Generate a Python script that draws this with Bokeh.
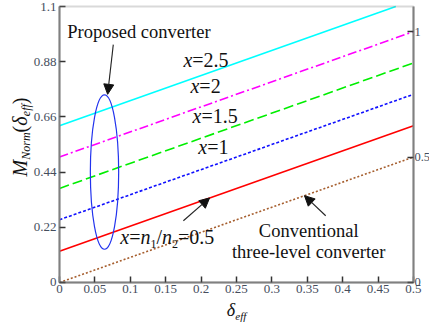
import math
from bokeh.plotting import figure
from bokeh.models import (Range1d, LinearAxis, FixedTicker, NumeralTickFormatter,
                          Label, Arrow, NormalHead, BoxAnnotation)
from bokeh.embed import file_html
from bokeh.resources import INLINE

# ---------------- data ----------------
delta = [0.0, 0.5]
delta_x25 = [0.0, 0.475]          # cyan line leaves the box at the top
m_conventional = [0.0, 0.5]
m_x05 = [0.125, 0.625]
m_x1 = [0.25, 0.75]
m_x15 = [0.375, 0.875]
m_x2 = [0.5, 1.0]
m_x25 = [0.625, 1.1]

x_ticks = [0, 0.05, 0.1, 0.15, 0.2, 0.25, 0.3, 0.35, 0.4, 0.45, 0.5]
y_ticks = [0, 0.22, 0.44, 0.66, 0.88, 1.1]
y2_ticks = [0, 0.5, 1]

FONT = "Times New Roman, Liberation Serif, serif"
TXT = "#111111"
AX = "#808080"
TICKLAB = "#454d5c"

W, H = 429, 324
# the frame covers the whole canvas; the axes sit at fixed data positions
X0, X1 = -0.0833, 0.5226
Y0, Y1 = -0.1674, 1.1239
PX_X = W / (X1 - X0)
PX_Y = H / (Y1 - Y0)

p = figure(width=W, height=H, x_range=Range1d(X0, X1), y_range=Range1d(Y0, Y1),
           output_backend="svg", toolbar_location=None, x_axis_type=None, y_axis_type=None,
           min_border_left=0, min_border_right=0, min_border_top=0, min_border_bottom=0)
p.xgrid.visible = False
p.ygrid.visible = False
p.outline_line_color = None
p.background_fill_color = "white"
p.border_fill_color = "white"

# box around the plotting area (gives the top edge)
p.add_layout(BoxAnnotation(left=x_ticks[0], right=x_ticks[-1], bottom=y_ticks[0], top=y_ticks[-1],
                           fill_color=None, fill_alpha=0, line_color=AX, line_width=2))

def make_axis(side, ticks, loc, bounds, size="13px", color=TICKLAB):
    ax = LinearAxis(fixed_location=loc, bounds=bounds)
    ax.ticker = FixedTicker(ticks=ticks)
    ax.formatter = NumeralTickFormatter(format="0.[00]")
    ax.axis_line_color = AX
    ax.axis_line_width = 2
    ax.major_tick_in = 6
    ax.major_tick_out = 0
    ax.major_tick_line_color = "#333333"
    ax.major_tick_line_width = 1.5
    ax.minor_tick_line_color = None
    ax.major_label_text_font = FONT
    ax.major_label_text_font_size = size
    ax.major_label_text_color = color
    ax.major_label_standoff = 3
    p.add_layout(ax, side)
    return ax

make_axis("below", x_ticks, 0, (0, 0.5))
make_axis("left", y_ticks, 0, (0, 1.1))
make_axis("right", y2_ticks, 0.5, (0, 1.1), size="12.5px").major_label_standoff = 1

# ---------------- lines ----------------
lw = 1.6
p.line(delta_x25, m_x25, line_color="#00FFFF", line_width=lw)
p.line(delta, m_x2, line_color="#FF00FF", line_width=lw, line_dash="9 3 2 3")
p.line(delta, m_x15, line_color="#00EE00", line_width=lw, line_dash="10 4")
p.line(delta, m_x1, line_color="#1010FF", line_width=lw, line_dash="3 2")
p.line(delta, m_x05, line_color="#FF0000", line_width=lw)
p.line(delta, m_conventional, line_color="#A65E2E", line_width=lw, line_dash="2 2")

# ellipse marking proposed converter curves
p.ellipse(x=[0.0636], y=[0.44], width=[0.04], height=[0.615],
          fill_alpha=0, line_color="#2233EE", line_width=1.2)

# ---------------- arrows ----------------
def arrow(x0, y0, x1, y1):
    p.add_layout(Arrow(x_start=x0, y_start=y0, x_end=x1, y_end=y1,
                       line_color="#222222", line_width=1.1,
                       end=NormalHead(size=10, fill_color="#111111", line_color="#111111")))

arrow(0.076, 0.948, 0.068, 0.75)
arrow(0.175, 0.246, 0.212, 0.337)
arrow(0.376, 0.266, 0.346, 0.346)

# ---------------- rich text helper ----------------
REG = {' ': 250, '(': 333, ')': 333, '.': 250, '/': 278, '=': 564, '-': 333,
       'a': 444, 'c': 444, 'd': 500, 'e': 444, 'f': 333, 'h': 500, 'i': 278, 'l': 278,
       'n': 500, 'o': 500, 'p': 500, 'r': 333, 's': 389, 't': 278, 'v': 500, 'x': 500,
       'C': 667, 'P': 556}
ITA = {'x': 444, 'n': 500, 'M': 833, 'N': 667, 'o': 500, 'r': 389, 'm': 722,
       'e': 444, 'f': 278, 'δ': 480}
MID = 0.34   # middle of the text box above the baseline, in em

def width(text, italic, size):
    tab = ITA if italic else REG
    return sum(tab.get(c, 500) for c in text) * size / 1000.0

def rich(x, y, segs, align="left", rotate=False):
    """x, y: start (or centre) of the baseline in data units."""
    total = sum(width(t, it, s) for t, it, s, dy in segs)
    pos = -total / 2 if align == "center" else 0.0
    for t, it, s, dy in segs:
        up = dy + MID * s
        if rotate:
            lab = Label(x=x - up / PX_X, y=y + pos / PX_Y, angle=math.pi / 2)
        else:
            lab = Label(x=x + pos / PX_X, y=y + up / PX_Y)
        lab.text = t
        lab.text_font = FONT
        lab.text_font_size = f"{s}px"
        lab.text_font_style = "italic" if it else "normal"
        lab.text_color = TXT
        lab.text_align = "left"
        lab.text_baseline = "middle"
        p.add_layout(lab)
        pos += width(t, it, s)

F = 18.5
rich(0.011, 0.972, [("Proposed converter", False, F, 0)])
rich(0.352, 0.179, [("Conventional", False, F, 0)], align="center")
rich(0.352, 0.095, [("three-level converter", False, F, 0)], align="center")

XL = 20
rich(0.175, 0.861, [("x", True, XL, 0), ("=2.5", False, XL, 0)])
rich(0.185, 0.755, [("x", True, XL, 0), ("=2", False, XL, 0)])
rich(0.188, 0.636, [("x", True, XL, 0), ("=1.5", False, XL, 0)])
rich(0.196, 0.512, [("x", True, XL, 0), ("=1", False, XL, 0)])
rich(0.086, 0.155, [("x", True, XL, 0), ("=", False, XL, 0), ("n", True, XL, 0),
                    ("1", False, 12, -4), ("/", False, XL, 0), ("n", True, XL, 0),
                    ("2", False, 12, -4), ("=0.5", False, XL, 0)])

# axis titles
rich(-0.0466, 0.58, [("M", True, 20, 0), ("Norm", True, 12, -4), ("(", False, 20, 0),
                     ("δ", True, 20, 0), ("eff", True, 12, -4), (")", False, 20, 0)],
     align="center", rotate=True)
rich(0.25, -0.135, [("δ", True, 18, 0), ("eff", True, 11, -3)], align="center")

open("out.html", "w").write(file_html(p, INLINE))
